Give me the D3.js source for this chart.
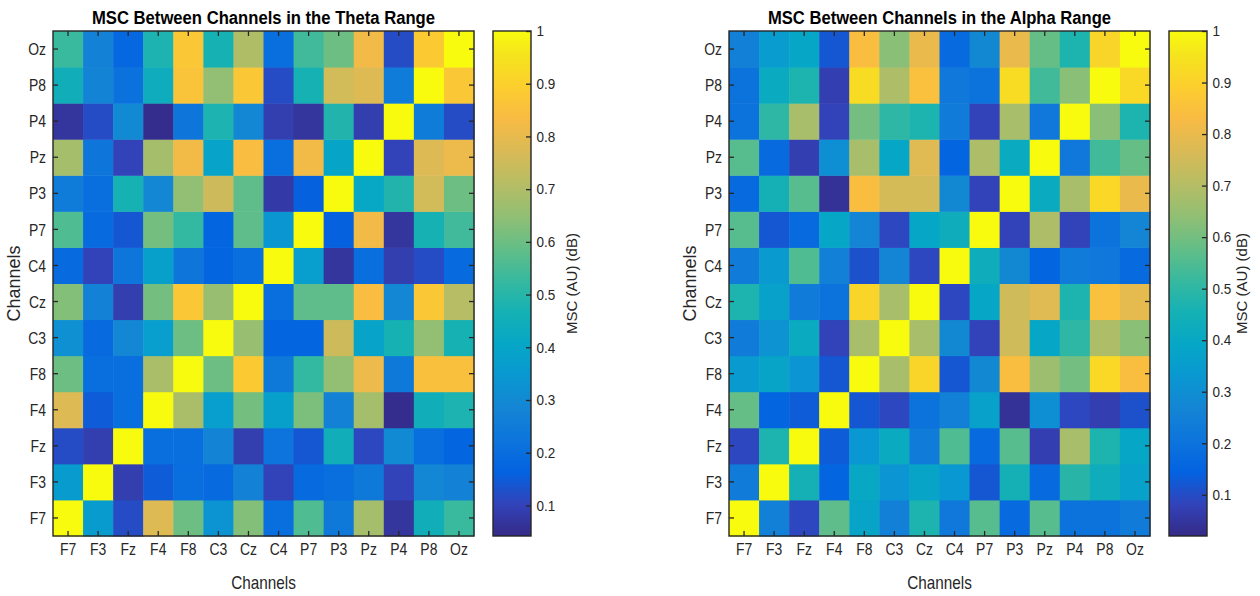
<!DOCTYPE html>
<html>
<head>
<meta charset="utf-8">
<script src="https://cdn.jsdelivr.net/npm/d3@7"></script>
<style>
  body { margin: 0; background: #fff; }
  svg { display: block; }
  text { font-family: "Liberation Sans", Arial, Helvetica, sans-serif; }
</style>
</head>
<body>
<svg id="chart" width="1260" height="596"></svg>
<script>
// EEG channel order (rows bottom-to-top, columns left-to-right)
const channels = ["F7", "F3", "Fz", "F4", "F8", "C3", "Cz", "C4", "P7", "P3", "Pz", "P4", "P8", "Oz"];

// Magnitude-squared coherence, theta band: one row per channel (row label), columns in channel order
const thetaMsc = [
  [1.00, 0.36, 0.12, 0.78, 0.60, 0.33, 0.63, 0.20, 0.56, 0.24, 0.68, 0.07, 0.45, 0.53], // F7
  [0.36, 1.00, 0.09, 0.15, 0.20, 0.19, 0.27, 0.10, 0.19, 0.20, 0.24, 0.10, 0.29, 0.27], // F3
  [0.12, 0.09, 1.00, 0.20, 0.20, 0.28, 0.09, 0.22, 0.14, 0.45, 0.11, 0.30, 0.20, 0.17], // Fz
  [0.78, 0.15, 0.20, 1.00, 0.69, 0.37, 0.61, 0.38, 0.62, 0.27, 0.68, 0.05, 0.45, 0.48], // F4
  [0.60, 0.20, 0.20, 0.69, 1.00, 0.60, 0.88, 0.24, 0.52, 0.65, 0.81, 0.24, 0.85, 0.85], // F8
  [0.32, 0.19, 0.29, 0.37, 0.60, 1.00, 0.66, 0.17, 0.17, 0.75, 0.39, 0.47, 0.65, 0.47], // C3
  [0.63, 0.27, 0.09, 0.61, 0.87, 0.66, 1.00, 0.20, 0.58, 0.58, 0.84, 0.29, 0.87, 0.71], // Cz
  [0.19, 0.10, 0.23, 0.38, 0.23, 0.17, 0.20, 1.00, 0.37, 0.07, 0.20, 0.09, 0.12, 0.19], // C4
  [0.56, 0.19, 0.14, 0.61, 0.52, 0.17, 0.58, 0.34, 1.00, 0.16, 0.82, 0.07, 0.47, 0.54], // P7
  [0.25, 0.20, 0.47, 0.29, 0.65, 0.75, 0.58, 0.08, 0.16, 1.00, 0.41, 0.49, 0.76, 0.60], // P3
  [0.68, 0.23, 0.10, 0.68, 0.82, 0.39, 0.84, 0.20, 0.82, 0.40, 1.00, 0.10, 0.78, 0.81], // Pz
  [0.07, 0.12, 0.30, 0.05, 0.23, 0.48, 0.29, 0.09, 0.07, 0.49, 0.09, 1.00, 0.25, 0.12], // P4
  [0.45, 0.28, 0.21, 0.44, 0.86, 0.65, 0.87, 0.12, 0.47, 0.76, 0.78, 0.25, 1.00, 0.87], // P8
  [0.53, 0.27, 0.18, 0.48, 0.87, 0.47, 0.70, 0.20, 0.54, 0.60, 0.82, 0.12, 0.88, 1.00]  // Oz
];

// Magnitude-squared coherence, alpha band
const alphaMsc = [
  [1.00, 0.25, 0.09, 0.57, 0.38, 0.25, 0.47, 0.22, 0.56, 0.17, 0.56, 0.20, 0.20, 0.23], // F7
  [0.23, 1.00, 0.45, 0.15, 0.40, 0.32, 0.38, 0.33, 0.12, 0.45, 0.17, 0.49, 0.43, 0.37], // F3
  [0.09, 0.47, 1.00, 0.13, 0.33, 0.41, 0.23, 0.55, 0.17, 0.56, 0.07, 0.68, 0.47, 0.39], // Fz
  [0.58, 0.15, 0.13, 1.00, 0.12, 0.09, 0.20, 0.25, 0.37, 0.04, 0.30, 0.09, 0.07, 0.11], // F4
  [0.34, 0.38, 0.32, 0.12, 1.00, 0.68, 0.91, 0.12, 0.28, 0.84, 0.66, 0.60, 0.92, 0.84], // F8
  [0.23, 0.31, 0.41, 0.08, 0.68, 1.00, 0.68, 0.28, 0.08, 0.75, 0.39, 0.50, 0.69, 0.63], // C3
  [0.47, 0.37, 0.23, 0.20, 0.91, 0.68, 1.00, 0.09, 0.39, 0.75, 0.78, 0.47, 0.85, 0.79], // Cz
  [0.23, 0.34, 0.55, 0.25, 0.11, 0.27, 0.09, 1.00, 0.43, 0.28, 0.15, 0.23, 0.22, 0.17], // C4
  [0.56, 0.12, 0.17, 0.39, 0.27, 0.09, 0.39, 0.43, 1.00, 0.08, 0.69, 0.08, 0.20, 0.27], // P7
  [0.17, 0.45, 0.56, 0.04, 0.84, 0.76, 0.76, 0.28, 0.08, 1.00, 0.41, 0.68, 0.92, 0.80], // P3
  [0.56, 0.17, 0.07, 0.30, 0.68, 0.39, 0.78, 0.15, 0.69, 0.41, 1.00, 0.22, 0.53, 0.58], // Pz
  [0.20, 0.50, 0.68, 0.08, 0.60, 0.50, 0.47, 0.23, 0.08, 0.68, 0.22, 1.00, 0.63, 0.47], // P4
  [0.20, 0.41, 0.47, 0.07, 0.93, 0.69, 0.85, 0.22, 0.20, 0.93, 0.53, 0.63, 1.00, 0.92], // P8
  [0.25, 0.35, 0.39, 0.12, 0.84, 0.63, 0.80, 0.17, 0.28, 0.80, 0.58, 0.47, 0.91, 1.00]  // Oz
];

// Colour limits of each panel and the colorbar tick values
const thetaLimits = [0.042, 1];
const alphaLimits = [0.02, 1];
const colorbarTicks = [0.1, 0.2, 0.3, 0.4, 0.5, 0.6, 0.7, 0.8, 0.9, 1];

// Parula colormap, sampled every 4th entry of the 64-level table
const parulaColors = [
  "#352a87", "#3243ba", "#0363e1", "#0d75dc", "#1485d4", "#0998d1",
  "#06a7c6", "#15b1b4", "#38b99e", "#65be86", "#92bf73", "#b7bd64",
  "#d9ba56", "#f8bb44", "#fcce2e", "#f5e41d", "#f9fb0e"
];
const parulaPos = parulaColors.map((c, i) => Math.min(1, (i * 4) / 63));

const parula = d3.scaleLinear()
  .domain(parulaPos)
  .range(parulaColors)
  .interpolate(d3.interpolateRgb)
  .clamp(true);

const svg = d3.select("#chart");
const ink = "#262626";
const tickFont = 17;
const squeeze = 0.82;

let gradId = 0;

function drawPanel(cfg) {
  const { matrix, limits, title, plot, bar, yLabelX, barLabelX } = cfg;
  const g = svg.append("g");

  const x = d3.scaleBand().domain(channels).range([plot.x0, plot.x1]);
  const y = d3.scaleBand().domain(channels).range([plot.y1, plot.y0]);
  const norm = d3.scaleLinear().domain(limits).range([0, 1]);
  const fill = v => parula(norm(v));

  // cells
  const cells = [];
  matrix.forEach((row, r) => row.forEach((v, c) => cells.push({ row: channels[r], col: channels[c], v })));
  g.append("g").selectAll("rect").data(cells).join("rect")
    .attr("x", d => x(d.col))
    .attr("y", d => y(d.row))
    .attr("width", x.bandwidth() + 0.5)
    .attr("height", y.bandwidth() + 0.5)
    .attr("fill", d => fill(d.v));

  // axes (ticks point inward, box mirrored)
  const bottom = g.append("g").attr("transform", `translate(0,${plot.y1})`)
    .call(d3.axisBottom(x).tickSize(-5).tickPadding(7));
  const top = g.append("g").attr("transform", `translate(0,${plot.y0})`)
    .call(d3.axisTop(x).tickSize(-5).tickFormat(""));
  const left = g.append("g").attr("transform", `translate(${plot.x0},0)`)
    .call(d3.axisLeft(y).tickSize(-5).tickPadding(0));
  const right = g.append("g").attr("transform", `translate(${plot.x1},0)`)
    .call(d3.axisRight(y).tickSize(-5).tickFormat(""));

  [bottom, top, left, right].forEach(a => {
    a.select(".domain").remove();
    a.selectAll("line").attr("stroke", ink).attr("stroke-width", 1.3);
    a.selectAll("text").attr("fill", ink).attr("font-size", tickFont)
      .attr("font-family", '"Liberation Sans", Arial, sans-serif');
  });
  bottom.selectAll("text").attr("transform", `scale(${squeeze},1)`);
  left.selectAll("text").attr("x", -7 / squeeze).attr("dy", "0.36em")
    .attr("transform", `scale(${squeeze},1)`);

  g.append("rect")
    .attr("x", plot.x0).attr("y", plot.y0)
    .attr("width", plot.x1 - plot.x0).attr("height", plot.y1 - plot.y0)
    .attr("fill", "none").attr("stroke", ink).attr("stroke-width", 1.4);

  // title
  g.append("text")
    .attr("x", (plot.x0 + plot.x1) / 2).attr("y", 24)
    .attr("text-anchor", "middle")
    .attr("font-size", 18).attr("font-weight", "bold").attr("fill", "#000")
    .attr("textLength", 343).attr("lengthAdjust", "spacingAndGlyphs")
    .text(title);

  // axis labels
  g.append("text")
    .attr("transform", `translate(${(plot.x0 + plot.x1) / 2},589) scale(0.85,1)`)
    .attr("text-anchor", "middle").attr("font-size", 18).attr("fill", ink)
    .text("Channels");
  g.append("text")
    .attr("transform", `translate(${yLabelX},${(plot.y0 + plot.y1) / 2}) rotate(-90)`)
    .attr("text-anchor", "middle").attr("font-size", 18).attr("fill", ink)
    .text("Channels");

  // colorbar
  const id = "parulaGrad" + (gradId++);
  const grad = svg.append("defs").append("linearGradient")
    .attr("id", id).attr("x1", 0).attr("y1", 1).attr("x2", 0).attr("y2", 0);
  grad.selectAll("stop").data(parulaColors).join("stop")
    .attr("offset", (d, i) => parulaPos[i])
    .attr("stop-color", d => d);

  g.append("rect")
    .attr("x", bar.x0).attr("y", plot.y0)
    .attr("width", bar.x1 - bar.x0).attr("height", plot.y1 - plot.y0)
    .attr("fill", `url(#${id})`);

  const cScale = d3.scaleLinear().domain(limits).range([plot.y1, plot.y0]);
  const cAxis = g.append("g").attr("transform", `translate(${bar.x1},0)`)
    .call(d3.axisRight(cScale).tickValues(colorbarTicks).tickSize(-5).tickPadding(6)
      .tickFormat(d3.format("~g")));
  cAxis.select(".domain").remove();
  cAxis.selectAll("line").attr("stroke", ink).attr("stroke-width", 1.3);
  cAxis.selectAll("text").attr("fill", ink).attr("font-size", 15)
    .attr("font-family", '"Liberation Sans", Arial, sans-serif')
    .attr("transform", "scale(0.9,1)");

  g.append("rect")
    .attr("x", bar.x0).attr("y", plot.y0)
    .attr("width", bar.x1 - bar.x0).attr("height", plot.y1 - plot.y0)
    .attr("fill", "none").attr("stroke", ink).attr("stroke-width", 1.4);

  g.append("text")
    .attr("transform", `translate(${barLabelX},${(plot.y0 + plot.y1) / 2}) rotate(-90)`)
    .attr("text-anchor", "middle").attr("dy", "0.35em")
    .attr("font-size", 15).attr("fill", ink)
    .text("MSC (AU) (dB)");
}

drawPanel({
  matrix: thetaMsc,
  limits: thetaLimits,
  title: "MSC Between Channels in the Theta Range",
  plot: { x0: 53, x1: 474, y0: 31, y1: 536 },
  bar: { x0: 493, x1: 531 },
  yLabelX: 20,
  barLabelX: 572
});

drawPanel({
  matrix: alphaMsc,
  limits: alphaLimits,
  title: "MSC Between Channels in the Alpha Range",
  plot: { x0: 729, x1: 1150, y0: 31, y1: 536 },
  bar: { x0: 1169, x1: 1207 },
  yLabelX: 696,
  barLabelX: 1242
});
</script>
</body>
</html>
